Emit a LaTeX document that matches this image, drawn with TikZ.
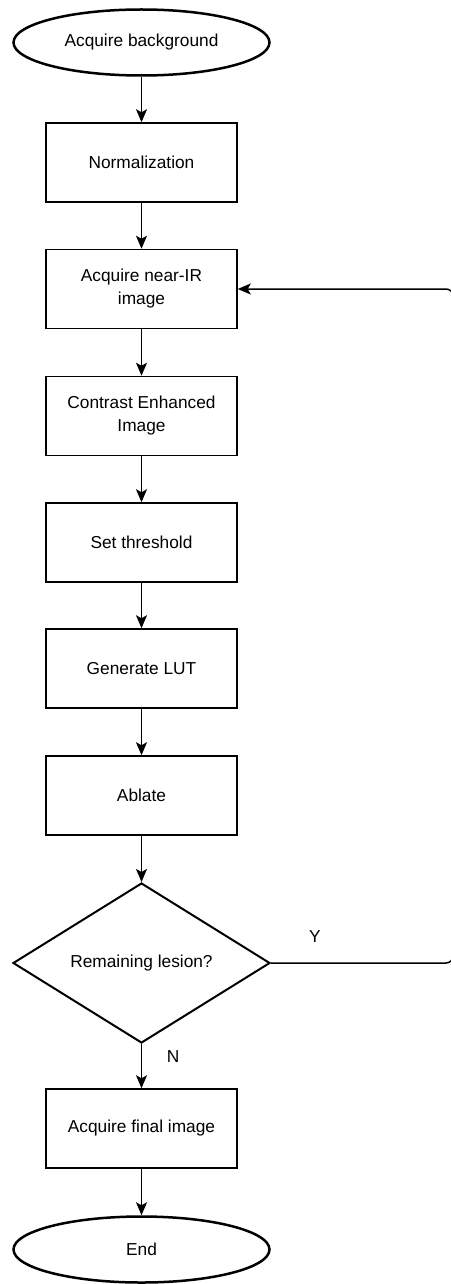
\documentclass[tikz,border=0pt]{standalone}
\usepackage{fontspec}
\setmainfont{Liberation Sans}
\usetikzlibrary{shapes.geometric,arrows.meta}
\tikzset{
  procbox/.style={draw, line width=1.5pt, minimum width=191pt, minimum height=79pt, inner sep=0pt, align=center, font=\fontsize{17.3}{23}\selectfont},
  term/.style={draw, ellipse, line width=2.5pt, minimum width=256pt, minimum height=66pt, inner sep=0pt, font=\fontsize{17.3}{23}\selectfont},
  decision/.style={draw, diamond, line width=2pt, minimum width=257pt, minimum height=160pt, inner sep=0pt, font=\fontsize{17.3}{23}\selectfont},
  conn/.style={line width=1.5pt, -{Stealth[length=13pt,width=11pt,inset=3pt]}},
  lbl/.style={font=\fontsize{17.3}{21}\selectfont}
}
\begin{document}
\begin{tikzpicture}[x=1pt,y=-1pt]
\useasboundingbox (0,0) rectangle (450,1284);
\node[term] (start) at (141.5,42.5) {Acquire background};
\node[procbox] (b1) at (141.5,162.5) {Normalization};
\node[procbox] (b2) at (141.5,289) {Acquire near-IR\\image};
\node[procbox] (b3) at (141.5,416) {Contrast Enhanced\\Image};
\node[procbox] (b4) at (141.5,542.5) {Set threshold};
\node[procbox] (b5) at (141.5,668.5) {Generate LUT};
\node[procbox] (b6) at (141.5,795.5) {Ablate};
\node[decision] (dia) at (141.5,963) {Remaining lesion?};
\node[procbox] (b7) at (141.5,1128.5) {Acquire final image};
\node[term] (end) at (141.5,1249.5) {End};
\draw[conn] (start) -- (b1);
\draw[conn] (b1) -- (b2);
\draw[conn] (b2) -- (b3);
\draw[conn] (b3) -- (b4);
\draw[conn] (b4) -- (b5);
\draw[conn] (b5) -- (b6);
\draw[conn] (b6) -- (dia);
\draw[conn] (dia) -- (b7);
\draw[conn] (b7) -- (end);
\coordinate (c1) at (453,963);
\coordinate (c2) at (453,289);
\draw[conn, rounded corners=7pt] (dia.east) -- (c1) -- (c2) -- (b2.east);
\node[lbl] (ylab) at (315,937) {Y};
\node[lbl] (nlab) at (173,1057) {N};
\end{tikzpicture}
\end{document}
